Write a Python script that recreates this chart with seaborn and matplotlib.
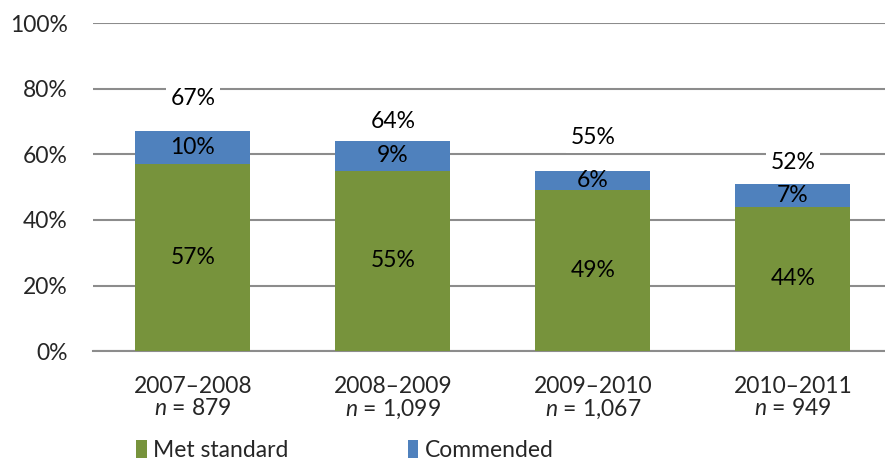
import matplotlib
matplotlib.use("Agg")
import matplotlib.pyplot as plt
import seaborn as sns
import pandas as pd
from matplotlib.patches import Patch

years = ["2007–2008", "2008–2009", "2009–2010", "2010–2011"]
ns = ["879", "1,099", "1,067", "949"]
met = [57, 55, 49, 44]
commended = [10, 9, 6, 7]
totals = [67, 64, 55, 52]
total_label_offset = [10, 6, 10, 5.5]

GREEN = "#77933C"
BLUE = "#4F81BD"
GRID = "#8C8C8C"

sns.set_theme(style="white")
plt.rcParams["font.family"] = ["Lato", "DejaVu Sans"]
plt.rcParams["mathtext.fontset"] = "custom"
plt.rcParams["mathtext.it"] = "Lato:italic"
plt.rcParams["mathtext.rm"] = "Lato"

df = pd.DataFrame({"year": years, "met": met, "com": commended})
df["stack"] = df["met"] + df["com"]

fig = plt.figure(figsize=(8.85, 4.62), dpi=100)
ax = fig.add_axes([0.105, 0.24, 0.895, 0.71])

sns.barplot(data=df, x="year", y="stack", color=BLUE, saturation=1, width=0.575, ax=ax, zorder=3, linewidth=0)
sns.barplot(data=df, x="year", y="met", color=GREEN, saturation=1, width=0.575, ax=ax, zorder=3, linewidth=0)

fs = 16.5
for i in range(len(years)):
    ax.text(i, met[i] / 2, f"{met[i]}%", ha="center", va="center", fontsize=fs, color="black", zorder=5)
    ax.text(i, met[i] + commended[i] / 2, f"{commended[i]}%", ha="center", va="center", fontsize=fs, color="black", zorder=5)
    ax.text(i, totals[i] + total_label_offset[i], f"{totals[i]}%", ha="center", va="center", fontsize=fs,
            color="black", zorder=5,
            bbox=dict(boxstyle="square,pad=0.2", facecolor="white", edgecolor="none"))

ax.set_ylim(0, 100)
ax.set_xlim(-0.5, 3.46)
ax.set_yticks([0, 20, 40, 60, 80, 100])
ax.set_yticklabels([f"{v}%" for v in [0, 20, 40, 60, 80, 100]], fontsize=fs)
ax.set_xticks(range(len(years)))
ax.set_xticklabels([f"{y}\n$\\it{{n}}$ = {n}" for y, n in zip(years, ns)], fontsize=fs, linespacing=1.05)
ax.tick_params(axis="y", length=0, pad=18)
ax.tick_params(axis="x", length=0, pad=18)
ax.set_xlabel("")
ax.set_ylabel("")

ax.yaxis.grid(True, color=GRID, linewidth=1.5, zorder=0)
ax.set_axisbelow(True)
for s in ["top", "right", "left"]:
    ax.spines[s].set_visible(False)
ax.spines["bottom"].set_color(GRID)
ax.spines["bottom"].set_linewidth(1.5)

handles = [Patch(facecolor=GREEN, edgecolor="none", label="Met standard"),
           Patch(facecolor=BLUE, edgecolor="none", label="Commended")]
fig.legend(handles=handles, loc="center", bbox_to_anchor=(0.39, 0.025), ncol=2, frameon=False,
           fontsize=fs, handlelength=0.45, handleheight=0.8, handletextpad=0.3, columnspacing=5.2,
           borderpad=0, borderaxespad=0)

fig.savefig("out.png", dpi=100)
